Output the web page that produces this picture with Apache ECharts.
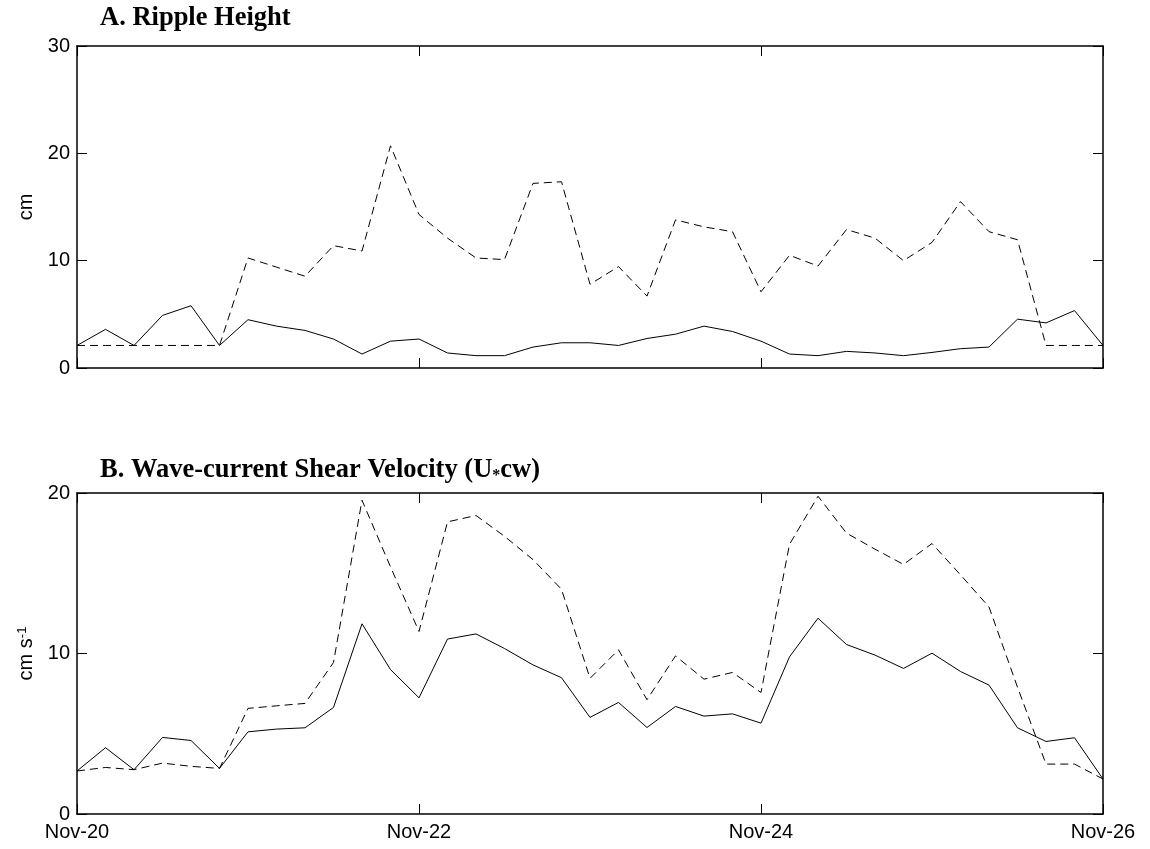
<!DOCTYPE html>
<html>
<head>
<meta charset="utf-8">
<script src="https://cdn.jsdelivr.net/npm/echarts@6/dist/echarts.min.js"></script>
<style>
html,body{margin:0;padding:0;background:#fff;}
#chart{width:1150px;height:849px;}
</style>
</head>
<body>
<div id="chart"></div>
<script>
// 4-hourly samples from Nov-20 00:00 to Nov-26 00:00 (37 points)
const stepHours = 4;
const tickLabels = ['Nov-20', 'Nov-22', 'Nov-24', 'Nov-26'];

// A. Ripple Height (cm)
const rippleSolid = [2.1, 3.6, 2.1, 4.9, 5.8, 2.1, 4.5, 3.9, 3.5, 2.7, 1.3, 2.5, 2.7, 1.4, 1.15, 1.15, 1.95, 2.35, 2.35, 2.1, 2.75, 3.15, 3.9, 3.4, 2.5, 1.3, 1.15, 1.55, 1.4, 1.15, 1.45, 1.8, 1.95, 4.55, 4.2, 5.35, 2.1];
const rippleDashed = [2.1, 2.1, 2.1, 2.1, 2.1, 2.1, 10.25, 9.4, 8.55, 11.4, 10.9, 20.7, 14.3, 12.1, 10.25, 10.1, 17.2, 17.35, 7.8, 9.45, 6.7, 13.8, 13.15, 12.7, 7.1, 10.5, 9.5, 12.9, 12.1, 10.0, 11.7, 15.5, 12.7, 11.95, 2.1, 2.1, 2.1];

// B. Wave-current Shear Velocity (cm s-1)
const shearSolid = [2.68, 4.13, 2.76, 4.77, 4.58, 2.84, 5.12, 5.29, 5.37, 6.64, 11.85, 9.0, 7.24, 10.9, 11.22, 10.31, 9.29, 8.49, 6.02, 6.95, 5.39, 6.7, 6.1, 6.24, 5.66, 9.79, 12.2, 10.56, 9.9, 9.07, 10.02, 8.88, 8.03, 5.37, 4.52, 4.75, 2.18];
const shearDashed = [2.68, 2.9, 2.76, 3.17, 2.97, 2.84, 6.58, 6.74, 6.89, 9.44, 19.55, 15.4, 11.37, 18.2, 18.6, 17.3, 15.85, 14.0, 8.45, 10.23, 7.12, 9.85, 8.4, 8.82, 7.57, 16.8, 19.8, 17.5, 16.5, 15.55, 16.85, 14.9, 12.9, 7.9, 3.11, 3.11, 2.18];

const toPairs = arr => arr.map((v, i) => [i * stepHours, v]);

const sans = 'Liberation Sans, Arial, sans-serif';
const serif = 'Liberation Serif, Times New Roman, serif';

function xAx(grid, pos, labels) {
  return {
    gridIndex: grid, type: 'value', position: pos, min: 0, max: 144, interval: 48,
    axisLine: { show: true, onZero: false, lineStyle: { color: '#000', width: 1.5 } },
    axisTick: { show: true, inside: true, length: 10, lineStyle: { color: '#000', width: 1 } },
    axisLabel: {
      show: labels, color: '#000', fontFamily: sans, fontSize: 20, margin: 8,
      formatter: v => tickLabels[Math.round(v / 48)]
    },
    splitLine: { show: false }
  };
}
function yAx(grid, pos, max, labels, name) {
  return {
    gridIndex: grid, type: 'value', position: pos, min: 0, max: max, interval: 10,
    axisLine: { show: true, onZero: false, lineStyle: { color: '#000', width: 1.5 } },
    axisTick: { show: true, inside: true, length: 10, lineStyle: { color: '#000', width: 1 } },
    axisLabel: { show: labels, color: '#000', fontFamily: sans, fontSize: 20, margin: 7 },
    splitLine: { show: false },
    name: name || '', nameLocation: 'middle', nameGap: 38, nameRotate: 90,
    nameTextStyle: {
      color: '#000', fontFamily: sans, fontSize: 20,
      rich: { sup: { fontFamily: sans, fontSize: 13, verticalAlign: 'top', color: '#000', padding: [0, 0, 8, 0] } }
    }
  };
}

const chart = echarts.init(document.getElementById('chart'), null, { renderer: 'canvas' });
chart.setOption({
  animation: false,
  backgroundColor: '#fff',
  title: [
    { text: 'A. Ripple Height', left: 100, top: 5, padding: 0,
      textStyle: { fontFamily: serif, fontWeight: 'bold', fontSize: 26.5, color: '#000' } },
    { text: 'B. Wave-current Shear Velocity (U{s|*}cw)', left: 100, top: 457, padding: 0,
      textStyle: { fontFamily: serif, fontWeight: 'bold', fontSize: 26.5, color: '#000',
        rich: { s: { fontFamily: serif, fontWeight: 'bold', fontSize: 16, color: '#000', verticalAlign: 'bottom' } } } }
  ],
  grid: [
    { left: 77, right: 47, top: 46, height: 322 },
    { left: 77, right: 47, top: 493, height: 321 }
  ],
  xAxis: [xAx(0, 'bottom', false), xAx(0, 'top', false), xAx(1, 'bottom', true), xAx(1, 'top', false)],
  yAxis: [yAx(0, 'left', 30, true, 'cm'), yAx(0, 'right', 30, false), yAx(1, 'left', 20, true, 'cm s{sup|-1}'), yAx(1, 'right', 20, false)],
  series: [
    { type: 'line', xAxisIndex: 0, yAxisIndex: 0, data: toPairs(rippleSolid), showSymbol: false, symbol: 'none',
      lineStyle: { color: '#000', width: 1 } },
    { type: 'line', xAxisIndex: 0, yAxisIndex: 0, data: toPairs(rippleDashed), showSymbol: false, symbol: 'none',
      lineStyle: { color: '#000', width: 1, type: [8, 5] } },
    { type: 'line', xAxisIndex: 2, yAxisIndex: 2, data: toPairs(shearSolid), showSymbol: false, symbol: 'none',
      lineStyle: { color: '#000', width: 1 } },
    { type: 'line', xAxisIndex: 2, yAxisIndex: 2, data: toPairs(shearDashed), showSymbol: false, symbol: 'none',
      lineStyle: { color: '#000', width: 1, type: [8, 5] } }
  ]
});
</script>
</body>
</html>
